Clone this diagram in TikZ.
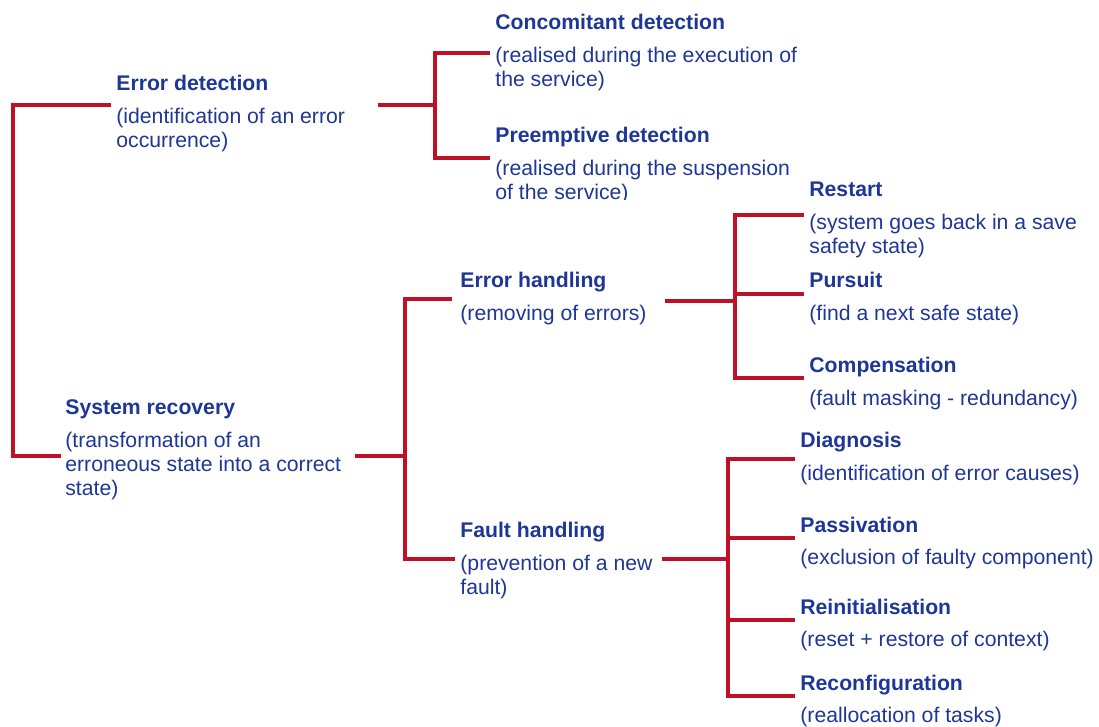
\documentclass[tikz,border=0pt]{standalone}
\usepackage{fontspec}
\setmainfont{Liberation Sans}
\definecolor{txtblue}{RGB}{30,55,150}
\definecolor{linered}{RGB}{190,16,38}
% an entry: bold title, then its explanation below
\newcommand{\entrytext}[2]{\begin{tabular}[t]{@{}l@{}}\textbf{#1}\\[4.2pt]#2\end{tabular}}
\begin{document}
\begin{tikzpicture}[x=0.5pt,y=-0.5pt,
  itembox/.style={anchor=base west,inner sep=0pt,text=txtblue,
    font=\fontsize{10.6}{12}\selectfont},
  bracket/.style={draw=linered,line width=1.9pt,line join=miter}]
\useasboundingbox[fill=white] (0,0) rectangle (1099,727);

% ---- texts ----
\node[itembox] (ed) at (116,91) {\entrytext{Error detection}{(identification of an error\\occurrence)}};
\node[itembox] (cd) at (495,30) {\entrytext{Concomitant detection}{(realised during the execution of\\the service)}};
\begin{scope}
  \clip (0,0) rectangle (1099,200);
  \node[itembox] (pd) at (495,143) {\entrytext{Preemptive detection}{(realised during the suspension\\of the service)}};
\end{scope}
\node[itembox] (sr) at (65,415) {\entrytext{System recovery}{(transformation of an\\erroneous state into a correct\\state)}};
\node[itembox] (eh) at (460,288) {\entrytext{Error handling}{(removing of errors)}};
\node[itembox] (fh) at (460,538) {\entrytext{Fault handling}{(prevention of a new\\fault)}};
\node[itembox] (rs) at (809,197) {\entrytext{Restart}{(system goes back in a save\\safety state)}};
\node[itembox] (pu) at (809,288) {\entrytext{Pursuit}{(find a next safe state)}};
\node[itembox] (cp) at (809,373) {\entrytext{Compensation}{(fault masking - redundancy)}};
\node[itembox] (dg) at (800,448) {\entrytext{Diagnosis}{(identification of error causes)}};
\node[itembox] (pv) at (800,532) {\entrytext{Passivation}{(exclusion of faulty component)}};
\node[itembox] (ri) at (800,614) {\entrytext{Reinitialisation}{(reset + restore of context)}};
\node[itembox] (rc) at (800,690) {\entrytext{Reconfiguration}{(reallocation of tasks)}};

% ---- bracket anchor points ----
\coordinate (rootJ) at (13,0);
\coordinate (edL) at (111,105);
\coordinate (srL) at (61,456);

\coordinate (edR) at (378,105);
\coordinate (edJ) at (435,105);
\coordinate (cdL) at (490,53);
\coordinate (pdL) at (490,158);

\coordinate (srR) at (355,456);
\coordinate (srJ) at (405,456);
\coordinate (ehL) at (452,299);
\coordinate (fhL) at (455,559);

\coordinate (ehR) at (665,301);
\coordinate (ehJ) at (735,301);
\coordinate (rsL) at (804,215);
\coordinate (puL) at (804,294);
\coordinate (cpL) at (804,378);

\coordinate (fhR) at (662,559);
\coordinate (fhJ) at (728,559);
\coordinate (dgL) at (795,459);
\coordinate (pvL) at (795,538);
\coordinate (riL) at (795,620);
\coordinate (rcL) at (795,696);

% ---- brackets ----
\draw[bracket] (edL) -- (edL -| rootJ) -- (srL -| rootJ) -- (srL);

\draw[bracket] (edR) -- (edJ);
\draw[bracket] (cdL) -| (edJ) |- (pdL);

\draw[bracket] (srR) -- (srJ);
\draw[bracket] (ehL) -| (srJ) |- (fhL);

\draw[bracket] (ehR) -- (ehJ);
\draw[bracket] (rsL) -| (ehJ) |- (cpL);
\draw[bracket] (puL) -- (puL -| ehJ);

\draw[bracket] (fhR) -- (fhJ);
\draw[bracket] (dgL) -| (fhJ) |- (rcL);
\draw[bracket] (pvL) -- (pvL -| fhJ);
\draw[bracket] (riL) -- (riL -| fhJ);
\end{tikzpicture}
\end{document}
